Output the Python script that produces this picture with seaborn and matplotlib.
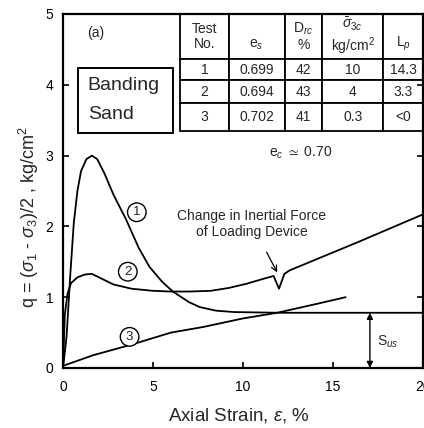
import numpy as np
import pandas as pd
import matplotlib
matplotlib.use("Agg")
import matplotlib.pyplot as plt
from matplotlib.patches import Rectangle
import seaborn as sns

# ---- stress-strain curves (axial strain %, q in kg/cm^2) ----
strain_1 = [0, 0.2, 0.4, 0.6, 0.8, 1.0, 1.3, 1.6, 1.9, 2.3, 2.8, 3.5, 4.2, 4.8,
            5.5, 6.1, 7.0, 7.6, 8.5, 9.5, 12.0, 20.0]
q_1 = [0, 0.45, 1.3, 2.05, 2.5, 2.78, 2.95, 3.0, 2.95, 2.75, 2.45, 2.1, 1.7, 1.43,
       1.22, 1.08, 0.93, 0.86, 0.81, 0.79, 0.78, 0.78]

strain_2 = [0, 0.1, 0.25, 0.45, 0.8, 1.2, 1.6, 2.0, 2.8, 3.8, 5.0, 6.0, 7.0, 8.2,
            9.2, 10.2, 11.0, 11.7, 12.0, 12.3, 12.6, 16.5, 20.0]
q_2 = [0, 0.75, 1.05, 1.2, 1.28, 1.32, 1.33, 1.28, 1.18, 1.12, 1.09, 1.08, 1.08, 1.09,
       1.13, 1.19, 1.25, 1.30, 1.12, 1.33, 1.38, 1.79, 2.17]

strain_3 = [0, 1.67, 3.8, 6.0, 7.8, 10.0, 11.9, 14.0, 15.7]
q_3 = [0.03, 0.18, 0.33, 0.5, 0.58, 0.7, 0.78, 0.9, 1.0]

# steady-state strength S_us (residual of test 1)
s_us = 0.78

# ---- test summary table ----
test_no = ["1", "2", "3"]
void_ratio = ["0.699", "0.694", "0.702"]
rel_density = ["42", "43", "41"]
conf_stress = ["10", "4", "0.3"]
l_p = ["14.3", "3.3", "<0"]
col_labels = ["Test\nNo.", "\ne$_s$", "D$_{rc}$\n%", "$\\bar{\\sigma}_{3c}$\nkg/cm$^2$", "\nL$_p$"]

x_ticks = [0, 5, 10, 15, 20]
y_ticks = [0, 1, 2, 3, 4, 5]

sns.set_theme(style="ticks")
plt.rcParams["font.family"] = ["Liberation Sans", "DejaVu Sans"]
plt.rcParams["mathtext.fontset"] = "custom"
plt.rcParams["mathtext.rm"] = "Liberation Sans"
plt.rcParams["mathtext.it"] = "Liberation Sans:italic"
plt.rcParams["mathtext.bf"] = "Liberation Sans:bold"
plt.rcParams["mathtext.fallback"] = "stixsans"

df = pd.concat([
    pd.DataFrame({"strain": strain_1, "q": q_1, "test": "1"}),
    pd.DataFrame({"strain": strain_2, "q": q_2, "test": "2"}),
    pd.DataFrame({"strain": strain_3, "q": q_3, "test": "3"}),
])

fig = plt.figure(figsize=(4.24, 4.28), dpi=100)
ax = fig.add_axes([0.1486, 0.1402, 0.849, 0.8271])

sns.lineplot(data=df, x="strain", y="q", hue="test", palette=["black"] * 3,
             estimator=None, sort=False, legend=False, linewidth=1.3, ax=ax)

ax.set_xlim(0, 20)
ax.set_ylim(0, 5)
ax.set_xticks(x_ticks)
ax.set_yticks(y_ticks)
ax.tick_params(direction="in", length=4, width=1.2, colors="black",
               labelsize=10, right=True)
ax.tick_params(axis="x", pad=9)
ax.tick_params(axis="y", pad=7)
for s in ax.spines.values():
    s.set_linewidth(1.6)
    s.set_color("black")
    s.set_visible(True)

ax.set_xlabel("Axial Strain, $\\varepsilon$, %", fontsize=13.5)
ax.set_ylabel("q = ($\\sigma_1$ - $\\sigma_3$)/2 , kg/cm$^2$", fontsize=13)
ax.xaxis.set_label_coords(0.489, -0.108)
ax.yaxis.set_label_coords(-0.06, 0.427)

# curve numbers in circles
circ = dict(boxstyle="circle,pad=0.25", fc="white", ec="black", lw=1.0)
for lab, (cx, cy) in zip(test_no, [(4.1, 2.2), (3.6, 1.36), (3.7, 0.44)]):
    ax.text(cx, cy, lab, fontsize=9.5, ha="center", va="center", bbox=circ)

ax.text(13.2, 3.04, "e$_c$ $\\simeq$ 0.70", fontsize=10, ha="center", va="center")

ax.annotate("Change in Inertial Force\nof Loading Device", xy=(11.9, 1.35),
            xytext=(10.5, 2.03), fontsize=10, ha="center", va="center",
            linespacing=1.15,
            arrowprops=dict(arrowstyle="->", color="black", lw=0.9,
                            shrinkA=8, shrinkB=0))

# S_us dimension arrow
ax.annotate("", xy=(17.05, 0), xytext=(17.05, s_us),
            arrowprops=dict(arrowstyle="<|-|>", color="black", lw=1.0,
                            shrinkA=0, shrinkB=0, mutation_scale=9))
ax.text(17.45, 0.37, "S$_{us}$", fontsize=10, ha="left", va="center")

# panel tag and material box
ax.text(0.067, 0.945, "(a)", transform=ax.transAxes, fontsize=10,
        ha="left", va="center")
ax.add_patch(Rectangle((0.042, 0.664), 0.264, 0.183, transform=ax.transAxes,
                       fill=False, ec="black", lw=1.4))
ax.text(0.069, 0.799, "Banding", transform=ax.transAxes, fontsize=14,
        ha="left", va="center")
ax.text(0.069, 0.715, "Sand", transform=ax.transAxes, fontsize=14,
        ha="left", va="center")

rows = list(zip(test_no, void_ratio, rel_density, conf_stress, l_p))
tbl = ax.table(cellText=rows, colLabels=col_labels, cellLoc="center",
               colWidths=[49, 56, 38, 61, 40],
               bbox=[0.325, 0.6695, 0.675, 0.3305])
tbl.auto_set_font_size(False)
tbl.set_fontsize(10)
row_h = [45, 21.5, 22.5, 28]
for (r, c), cell in tbl.get_celld().items():
    cell.set_height(row_h[r])
    cell.set_linewidth(1.3)
    cell.set_edgecolor("black")
    cell.set_facecolor("white")
    cell.get_text().set_linespacing(1.1)

fig.savefig("out.png", dpi=100)
